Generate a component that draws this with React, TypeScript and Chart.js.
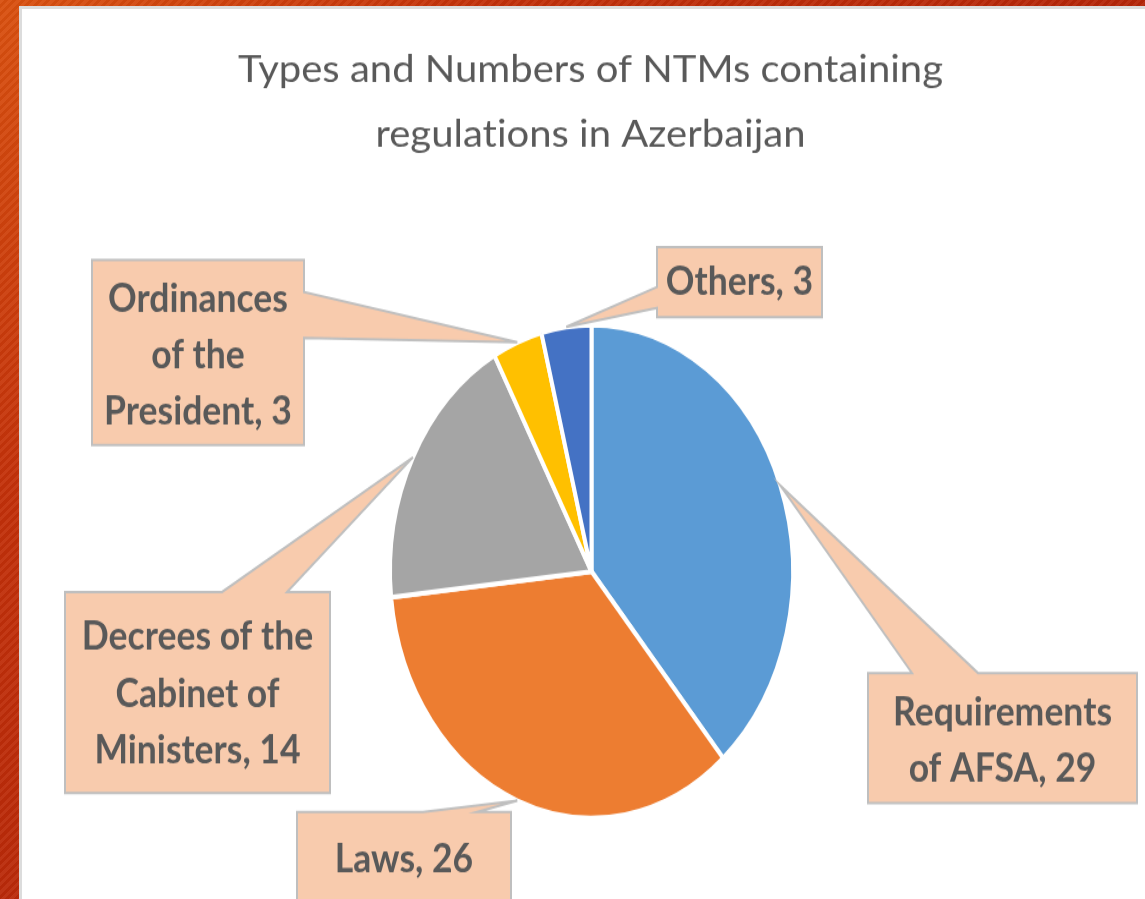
import React, { useEffect, useRef } from "react";
import { Chart, registerables } from "chart.js";

Chart.register(...registerables);

// ---------- data ----------
const titleLines = ["Types and Numbers of NTMs containing", "regulations in Azerbaijan"];
const categories = [
  "Requirements of AFSA",
  "Laws",
  "Decrees of the Cabinet of Ministers",
  "Ordinances of the President",
  "Others",
];
const values = [29, 26, 14, 3, 3];
const colors = ["#5B9BD5", "#ED7D31", "#A5A5A5", "#FFC000", "#4472C4"];

// ---------- layout (page pixels) ----------
const W = 1145;
const H = 899;
const SY = 1.2233; // vertical stretch of the picture
const CH = Math.round(H / SY);
const PIE_CX = 591.5;
const PIE_CY = 571.5;
const PIE_R = 201.5;

type Callout = {
  box: number[];
  side: "top" | "left" | "right";
  base: number[];
  words: number[];
  baselines: number[];
};
const callouts: Callout[] = [
  { box: [868, 673, 1137, 803], side: "top", base: [912, 978], words: [1, 3], baselines: [726, 782] },
  { box: [297, 812, 511, 940], side: "top", base: [423, 477], words: [2], baselines: [872] },
  { box: [65, 592, 330, 793], side: "top", base: [222, 287], words: [3, 2, 2], baselines: [650, 707, 763] },
  { box: [92, 260, 304, 445], side: "right", base: [292, 338], words: [1, 2, 2], baselines: [312, 368, 425] },
  { box: [657, 247, 822, 317], side: "left", base: [287, 308], words: [2], baselines: [295] },
];

const TEXT_COLOR = "#595959";
const BOX_FILL = "#F8CBAD";
const BOX_STROKE = "#BFBFBF";

// break the "ti"/"fi" ligatures that Lato would otherwise form
const noLig = (s: string) => s.replace(/([tf])(?=[il])/g, "$1\u200C");

const calloutPlugin = {
  id: "callouts",
  afterDatasetsDraw(chart: any) {
    const ctx: CanvasRenderingContext2D = chart.ctx;
    const meta = chart.getDatasetMeta(0);

    // title
    ctx.save();
    ctx.fillStyle = TEXT_COLOR;
    ctx.textAlign = "center";
    ctx.textBaseline = "alphabetic";
    ctx.font = "400 31px Lato";
    const tw = ctx.measureText(noLig(titleLines[0])).width;
    const tsx = 705 / tw;
    const titleBase = [82, 147];
    titleLines.forEach((line, i) => {
      ctx.save();
      ctx.translate(590.5, titleBase[i] / SY);
      ctx.scale(tsx, 1);
      ctx.fillText(noLig(line), 0, 0);
      ctx.restore();
    });
    ctx.restore();

    // callouts
    ctx.save();
    ctx.font = "700 32px Lato";
    const sx = 219 / ctx.measureText("Requirements").width;
    callouts.forEach((c, i) => {
      const el = meta.data[i];
      if (!el) return;
      const p = el.getProps(["x", "y", "outerRadius", "startAngle", "endAngle"], true);
      const mid = (p.startAngle + p.endAngle) / 2;
      const tx = p.x + p.outerRadius * Math.cos(mid);
      const ty = p.y + p.outerRadius * Math.sin(mid);
      const L = c.box[0];
      const T = c.box[1] / SY;
      const R = c.box[2];
      const B = c.box[3] / SY;
      ctx.beginPath();
      if (c.side === "top") {
        ctx.moveTo(L, T);
        ctx.lineTo(c.base[0], T);
        ctx.lineTo(tx, ty);
        ctx.lineTo(c.base[1], T);
        ctx.lineTo(R, T);
        ctx.lineTo(R, B);
        ctx.lineTo(L, B);
      } else if (c.side === "right") {
        ctx.moveTo(L, T);
        ctx.lineTo(R, T);
        ctx.lineTo(R, c.base[0] / SY);
        ctx.lineTo(tx, ty);
        ctx.lineTo(R, c.base[1] / SY);
        ctx.lineTo(R, B);
        ctx.lineTo(L, B);
      } else {
        ctx.moveTo(L, T);
        ctx.lineTo(R, T);
        ctx.lineTo(R, B);
        ctx.lineTo(L, B);
        ctx.lineTo(L, c.base[1] / SY);
        ctx.lineTo(tx, ty);
        ctx.lineTo(L, c.base[0] / SY);
      }
      ctx.closePath();
      ctx.fillStyle = BOX_FILL;
      ctx.fill();
      ctx.lineWidth = 2;
      ctx.lineJoin = "miter";
      ctx.strokeStyle = BOX_STROKE;
      ctx.stroke();

      const words = `${categories[i]}, ${values[i]}`.split(" ");
      let k = 0;
      const cx = (L + R) / 2;
      ctx.fillStyle = TEXT_COLOR;
      ctx.textAlign = "center";
      ctx.textBaseline = "alphabetic";
      c.words.forEach((n, li) => {
        const line = words.slice(k, k + n).join(" ");
        k += n;
        ctx.save();
        ctx.translate(cx, c.baselines[li] / SY);
        ctx.scale(sx, 1);
        ctx.fillText(noLig(line), 0, 0);
        ctx.restore();
      });
    });
    ctx.restore();
  },
};

export default function App() {
  const ref = useRef<HTMLCanvasElement | null>(null);

  useEffect(() => {
    if (!ref.current) return;
    const cyCanvas = PIE_CY / SY;
    const chart = new Chart(ref.current, {
      type: "pie",
      data: {
        labels: categories,
        datasets: [
          {
            data: values,
            backgroundColor: colors,
            borderColor: "#FFFFFF",
            borderWidth: 4,
            radius: PIE_R,
          } as any,
        ],
      },
      options: {
        responsive: false,
        animation: false,
        events: [],
        radius: PIE_R,
        layout: {
          padding: {
            left: 2 * PIE_CX - W,
            right: 0,
            top: 2 * cyCanvas - CH,
            bottom: 0,
          },
        },
        plugins: {
          legend: { display: false },
          tooltip: { enabled: false },
          title: { display: false },
        },
      } as any,
      plugins: [calloutPlugin],
    });
    return () => chart.destroy();
  }, []);

  return (
    <div
      style={{
        position: "absolute",
        left: 0,
        top: 0,
        width: W,
        height: H,
        overflow: "hidden",
        background:
          "repeating-linear-gradient(135deg, rgba(255,255,255,0.05) 0px, rgba(255,255,255,0.05) 3px, rgba(0,0,0,0.03) 3px, rgba(0,0,0,0.03) 6px), radial-gradient(circle at 0 0, #D9500F 0%, #C2300A 35%, #AE2008 100%)",
      }}
    >
      <div
        style={{
          position: "absolute",
          left: 19,
          top: 6,
          width: W,
          height: H,
          background: "#FFFFFF",
          borderLeft: "3px solid #DCDCDC",
          borderTop: "3px solid #DCDCDC",
        }}
      />
      <div
        style={{
          position: "absolute",
          left: 0,
          top: 0,
          width: W,
          height: CH,
          transform: `scaleY(${SY})`,
          transformOrigin: "0 0",
        }}
      >
        <canvas ref={ref} width={W} height={CH} style={{ display: "block", width: W, height: CH }} />
      </div>
    </div>
  );
}
